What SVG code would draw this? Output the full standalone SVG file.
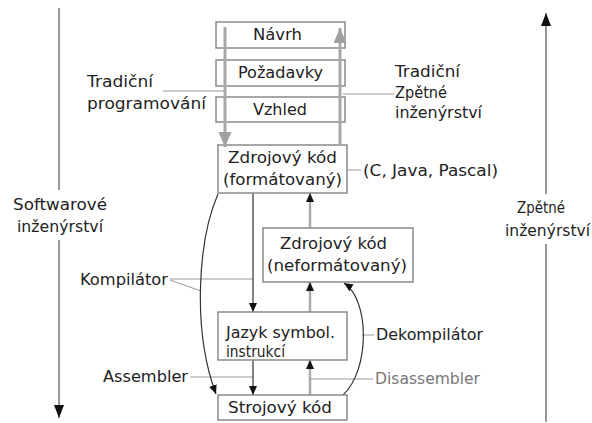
<svg xmlns="http://www.w3.org/2000/svg" width="592" height="423" viewBox="0 0 592 423">
<style>
text{font-family:"DejaVu Sans","Liberation Sans",sans-serif;font-size:16px;fill:#222}
.box{fill:#fff;stroke:#8a8a8a;stroke-width:1.5}
.thin{stroke:#999;stroke-width:1;fill:none}
.blk{stroke:#333;stroke-width:1.2;fill:none}
.gup{stroke:#aaa;stroke-width:2.5;fill:none}
.gbig{stroke:#a8a8a8;stroke-width:3;fill:none}
.axis{stroke:#999;stroke-width:2;fill:none}
.gray{fill:#777}
</style>
<defs>
<marker id="ab" markerUnits="userSpaceOnUse" markerWidth="10" markerHeight="10" refX="9" refY="4" orient="auto"><path d="M0,0 L9,4 L0,8 z" fill="#111"/></marker>
<marker id="ag" markerUnits="userSpaceOnUse" markerWidth="16" markerHeight="14" refX="15" refY="6.5" orient="auto"><path d="M0,0 L15,6.5 L0,13 z" fill="#a0a0a0"/></marker>
<marker id="ax" markerUnits="userSpaceOnUse" markerWidth="14" markerHeight="12" refX="13" refY="5" orient="auto"><path d="M0,0 L13,5 L0,10 z" fill="#111"/></marker>
</defs>
<g id="connectors">
<line class="axis" x1="59" y1="8" x2="59" y2="418" marker-end="url(#ax)"/>
<line class="axis" x1="546" y1="422" x2="546" y2="13" marker-end="url(#ax)"/>
<line class="thin" x1="163" y1="91" x2="225" y2="91"/>
<line class="thin" x1="343" y1="94" x2="394" y2="94"/>
<line class="thin" x1="347" y1="170" x2="361" y2="170"/>
<line class="thin" x1="170" y1="279" x2="253" y2="279"/>
<line class="thin" x1="170" y1="280" x2="201" y2="291"/>
<line class="thin" x1="190" y1="377" x2="253" y2="377"/>
<line class="thin" x1="362" y1="335" x2="374" y2="335"/>
<line class="thin" x1="311" y1="379" x2="373" y2="379"/>
<line class="blk" x1="253" y1="193" x2="253" y2="312" marker-end="url(#ab)"/>
<line class="blk" x1="253" y1="360" x2="253" y2="395" marker-end="url(#ab)"/>
<path class="blk" d="M218,194 C198,240 192,330 216,394" marker-end="url(#ab)"/>
<path class="blk" d="M343,395 C370,370 370,300 344,283" marker-end="url(#ab)" stroke="#555"/>
<line class="gup" x1="310" y1="395" x2="310" y2="360" marker-end="url(#ab)"/>
<line class="gup" x1="310" y1="312" x2="310" y2="282" marker-end="url(#ab)"/>
<line class="gup" x1="310" y1="228" x2="310" y2="193" marker-end="url(#ab)"/>
</g>
<g id="navrh"><rect class="box" x="216" y="22" width="129" height="26"/><text x="253" y="40" textLength="49" lengthAdjust="spacingAndGlyphs">Návrh</text></g>
<g id="pozadavky"><rect class="box" x="216" y="60" width="129" height="26"/><text x="238" y="78" textLength="85" lengthAdjust="spacingAndGlyphs">Požadavky</text></g>
<g id="vzhled"><rect class="box" x="216" y="97" width="129" height="25"/><text x="253" y="115" textLength="54" lengthAdjust="spacingAndGlyphs">Vzhled</text></g>
<g id="zdroj-form"><rect class="box" x="218" y="145" width="129" height="48"/><text x="228" y="163" textLength="109" lengthAdjust="spacingAndGlyphs">Zdrojový kód</text><text x="223" y="185" textLength="119" lengthAdjust="spacingAndGlyphs">(formátovaný)</text></g>
<g id="zdroj-neform"><rect class="box" x="263" y="228" width="150" height="54"/><text x="280" y="249" textLength="107" lengthAdjust="spacingAndGlyphs">Zdrojový kód</text><text x="267" y="271" textLength="140" lengthAdjust="spacingAndGlyphs">(neformátovaný)</text></g>
<g id="jazyk"><rect class="box" x="218" y="312" width="129" height="48"/><text x="226" y="338" textLength="109" lengthAdjust="spacingAndGlyphs">Jazyk symbol.</text><text x="226" y="357" textLength="59" lengthAdjust="spacingAndGlyphs">instrukcí</text></g>
<g id="strojovy"><rect class="box" x="218" y="395" width="129" height="25"/><text x="228" y="413" textLength="104" lengthAdjust="spacingAndGlyphs">Strojový kód</text></g>
<g id="long-arrows">
<line class="gbig" x1="225" y1="27" x2="225" y2="147" marker-end="url(#ag)"/>
<line class="gbig" x1="340" y1="146" x2="340" y2="28" marker-end="url(#ag)"/>
</g>
<g id="labels">
<rect x="8" y="190" width="104" height="50" fill="#fff"/>
<text x="13" y="210" textLength="94" lengthAdjust="spacingAndGlyphs">Softwarové</text>
<text x="17" y="232" textLength="86" lengthAdjust="spacingAndGlyphs">inženýrství</text>
<rect x="502" y="194" width="90" height="50" fill="#fff"/>
<text x="517" y="213" textLength="48" lengthAdjust="spacingAndGlyphs">Zpětné</text>
<text x="505" y="236" textLength="85" lengthAdjust="spacingAndGlyphs">inženýrství</text>
<text x="87" y="87" textLength="66" lengthAdjust="spacingAndGlyphs">Tradiční</text>
<text x="87" y="109" textLength="119" lengthAdjust="spacingAndGlyphs">programování</text>
<text x="395" y="77" textLength="65" lengthAdjust="spacingAndGlyphs">Tradiční</text>
<text x="395" y="98" textLength="52" lengthAdjust="spacingAndGlyphs">Zpětné</text>
<text x="395" y="118" textLength="87" lengthAdjust="spacingAndGlyphs">inženýrství</text>
<text x="363" y="176" textLength="135" lengthAdjust="spacingAndGlyphs">(C, Java, Pascal)</text>
<text x="80" y="285" textLength="88" lengthAdjust="spacingAndGlyphs">Kompilátor</text>
<text x="103" y="382" textLength="85" lengthAdjust="spacingAndGlyphs">Assembler</text>
<text x="376" y="340" textLength="107" lengthAdjust="spacingAndGlyphs">Dekompilátor</text>
<text class="gray" x="375" y="384" textLength="105" lengthAdjust="spacingAndGlyphs">Disassembler</text>
</g>
</svg>
